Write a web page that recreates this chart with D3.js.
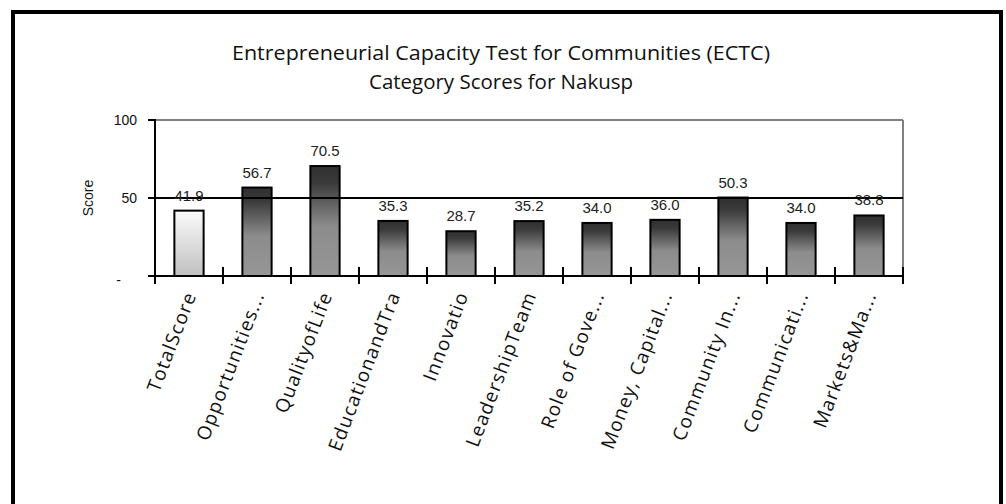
<!DOCTYPE html>
<html><head><meta charset="utf-8">
<script src="https://cdn.jsdelivr.net/npm/d3@7"></script>
<style>body{margin:0;background:#fff}svg{display:block}</style>
</head><body>
<svg id="chart" width="1006" height="504"></svg>
<script>
const categories = ["TotalScore","Opportunities...","QualityofLife","EducationandTra","Innovatio","LeadershipTeam","Role of Gove...","Money, Capital...","Community In...","Communicati...","Markets&Ma..."];
const scores = [41.9, 56.7, 70.5, 35.3, 28.7, 35.2, 34.0, 36.0, 50.3, 34.0, 38.8];
const yTicks = [0, 50, 100];
const yTickLabels = ["-", "50", "100"];
const titleLines = ["Entrepreneurial Capacity Test for Communities (ECTC)", "Category Scores for Nakusp"];

(function(){
const svg = d3.select("#chart");
const defs = svg.append("defs");
const gDark = defs.append("linearGradient").attr("id","gDark").attr("x1",0).attr("y1",0).attr("x2",0).attr("y2",1);
gDark.append("stop").attr("offset","0%").attr("stop-color","#303030");
gDark.append("stop").attr("offset","15%").attr("stop-color","#3a3a3a");
gDark.append("stop").attr("offset","55%").attr("stop-color","#8c8c8c");
gDark.append("stop").attr("offset","100%").attr("stop-color","#969696");
const gLight = defs.append("linearGradient").attr("id","gLight").attr("x1",0).attr("y1",0).attr("x2",0).attr("y2",1);
gLight.append("stop").attr("offset","0%").attr("stop-color","#fbfbfb");
gLight.append("stop").attr("offset","100%").attr("stop-color","#c0c0c0");

// frame
svg.append("rect").attr("x",13).attr("y",12).attr("width",988).attr("height",540)
  .attr("fill","none").attr("stroke","#000").attr("stroke-width",4);

// title
svg.selectAll("text.title").data(titleLines).join("text").attr("class","title")
  .attr("x",501).attr("y",(d,i)=>60+i*29).attr("text-anchor","middle")
  .attr("font-family","'Open Sans', sans-serif").attr("font-size",19.5).attr("fill","#111")
  .attr("textLength",(d,i)=>i===0?538:264).attr("lengthAdjust","spacingAndGlyphs")
  .text(d=>d);

const pLeft=155, pRight=903, pTop=120, pBottom=276;
const x = d3.scaleBand().domain(categories).range([pLeft,pRight]).paddingInner(0.57).paddingOuter(0.285);
const y = d3.scaleLinear().domain([0,100]).range([pBottom,pTop]);

// top gray line and right gray line
svg.append("line").attr("x1",pLeft).attr("x2",pRight).attr("y1",y(100)).attr("y2",y(100)).attr("stroke","#808080").attr("stroke-width",2);
svg.append("line").attr("x1",pRight).attr("x2",pRight).attr("y1",y(100)).attr("y2",y(0)).attr("stroke","#808080").attr("stroke-width",2);

// bars
svg.selectAll("rect.bar").data(scores).join("rect").attr("class","bar")
  .attr("x",(d,i)=>x(categories[i])).attr("width",x.bandwidth())
  .attr("y",d=>y(d)).attr("height",d=>y(0)-y(d))
  .attr("fill",(d,i)=>i===0?"url(#gLight)":"url(#gDark)")
  .attr("stroke","#000").attr("stroke-width",2);

// 50 gridline (black)
svg.append("line").attr("x1",pLeft-7).attr("x2",pRight).attr("y1",y(50)).attr("y2",y(50)).attr("stroke","#000").attr("stroke-width",2);
// y tick at 100
svg.append("line").attr("x1",pLeft-7).attr("x2",pLeft).attr("y1",y(100)).attr("y2",y(100)).attr("stroke","#000").attr("stroke-width",2);
// y axis
svg.append("line").attr("x1",pLeft).attr("x2",pLeft).attr("y1",y(100)-1).attr("y2",y(0)+8).attr("stroke","#000").attr("stroke-width",2);
// baseline
svg.append("line").attr("x1",pLeft-7).attr("x2",pRight+1).attr("y1",y(0)).attr("y2",y(0)).attr("stroke","#000").attr("stroke-width",2);
// x ticks at band boundaries
const bounds = d3.range(categories.length+1).map(i=>x(categories[0]) - x.step()*x.paddingInner()/2 + i*x.step());
svg.selectAll("line.xt").data(bounds.slice(1)).join("line").attr("class","xt")
  .attr("x1",d=>d).attr("x2",d=>d).attr("y1",y(0)-9).attr("y2",y(0)+8)
  .attr("stroke","#000").attr("stroke-width",2);

// y labels
svg.selectAll("text.yl").data(yTicks).join("text").attr("class","yl")
  .attr("x",(d,i)=>i===0?121:137).attr("y",(d,i)=>y(d)+(i===0?9:5)).attr("text-anchor","end")
  .attr("font-family","'Liberation Sans', Arial, sans-serif").attr("font-size",14).attr("fill","#111")
  .text((d,i)=>yTickLabels[i]);
svg.append("text").attr("transform",`translate(93,${y(50)}) rotate(-90)`).attr("text-anchor","middle")
  .attr("font-family","'Liberation Sans', Arial, sans-serif").attr("font-size",14).attr("fill","#111").text("Score");

// value labels
svg.selectAll("text.val").data(scores).join("text").attr("class","val")
  .attr("x",(d,i)=>x(categories[i])+x.bandwidth()/2).attr("y",d=>y(d)-10)
  .attr("text-anchor","middle").attr("font-family","'Liberation Sans', Arial, sans-serif")
  .attr("font-size",15).attr("fill","#222").text(d=>d.toFixed(1));

// category labels
svg.selectAll("text.cat").data(categories).join("text").attr("class","cat")
  .attr("transform",d=>`translate(${x(d)+x.bandwidth()/2+3},${y(0)+17}) rotate(-69)`)
  .attr("text-anchor","end").attr("dominant-baseline","middle")
  .attr("font-family","'Open Sans', sans-serif").attr("font-size",19).attr("letter-spacing",1.2).attr("fill","#111")
  .text(d=>d);
})();
</script>
</body></html>
